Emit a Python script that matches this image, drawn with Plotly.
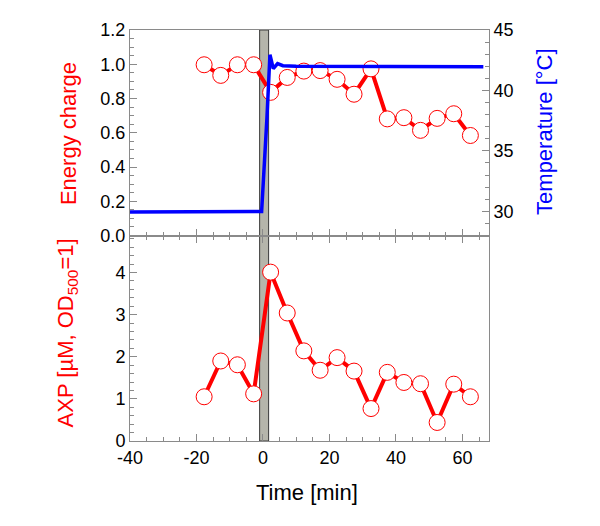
import plotly.graph_objects as go

# ---- data ----
sample_time = [-17.7, -12.7, -7.7, -2.8, 2.3, 7.3, 12.3, 17.2, 22.3, 27.4, 32.5, 37.4, 42.4, 47.4, 52.4, 57.4, 62.4]
energy_charge = [0.997, 0.935, 0.997, 0.997, 0.836, 0.923, 0.96, 0.963, 0.912, 0.825, 0.973, 0.681, 0.688, 0.614, 0.684, 0.711, 0.584]
axp = [1.05, 1.90, 1.81, 1.12, 4.01, 3.04, 2.14, 1.68, 1.98, 1.66, 0.77, 1.63, 1.39, 1.36, 0.44, 1.35, 1.05]

temp_time = [-40, -30, -20, -10, -0.4, 1.2, 1.7, 2.1, 2.5, 3.1, 4.4, 6, 10, 20, 30, 40, 50, 60, 66.3]
temp_vals = [29.95, 29.95, 29.96, 29.97, 29.98, 37.75, 40.97, 42.95, 42.5, 41.8, 42.22, 42.05, 42.0, 42.0, 42.0, 41.99, 41.99, 41.98, 41.97]

x_tickvals = [-40, -20, 0, 20, 40, 60]
x_ticktext = ["-40", "-20", "0", "20", "40", "60"]

shift_start, shift_end = -1.0, 1.7

RED = "#ff0000"
BLUE = "#0000ff"
AXC = "#8a8a8a"
FONT = "Arial, Liberation Sans, sans-serif"

fig = go.Figure()

fig.add_trace(go.Scatter(x=temp_time, y=temp_vals, xaxis="x2", yaxis="y3",
                         mode="lines", line=dict(color=BLUE, width=3.5),
                         showlegend=False, hoverinfo="skip"))

marker = dict(symbol="circle", size=16, color="white", line=dict(color=RED, width=1))
fig.add_trace(go.Scatter(x=sample_time, y=energy_charge, xaxis="x2", yaxis="y",
                         mode="lines+markers", line=dict(color=RED, width=4),
                         marker=marker, showlegend=False))
fig.add_trace(go.Scatter(x=sample_time, y=axp, xaxis="x", yaxis="y2",
                         mode="lines+markers", line=dict(color=RED, width=4),
                         marker=marker, showlegend=False))

fig.add_shape(type="rect", xref="x", yref="paper", x0=shift_start, x1=shift_end, y0=0, y1=1,
              fillcolor="#b5b5ab", line=dict(color="#3a3a3a", width=1), layer="below")

tickfont = dict(family=FONT, size=18, color="black")
xcommon = dict(range=[-40, 68], tickmode="array", tickvals=x_tickvals, ticktext=x_ticktext,
               ticks="inside", ticklen=7, tickcolor=AXC,
               showline=True, linecolor=AXC, linewidth=1, showgrid=False, zeroline=False,
               minor=dict(dtick=5, tick0=0, ticks="inside", ticklen=4, tickcolor=AXC))

fig.update_layout(
    width=592, height=518,
    margin=dict(l=122, r=111, t=12, b=85),
    plot_bgcolor="white", paper_bgcolor="white",
    font=dict(family=FONT, size=18, color="black"),
    xaxis=dict(**xcommon, anchor="y2", mirror="ticks", tickfont=tickfont),
    xaxis2=dict(**xcommon, anchor="y", matches="x", mirror=True, showticklabels=False),
    yaxis=dict(domain=[0.5, 1], anchor="x2", range=[0, 1.2], dtick=0.2, tickformat=".1f",
               ticks="inside", ticklen=7, tickcolor=AXC, showline=True, linecolor=AXC,
               showgrid=False, zeroline=False, tickfont=tickfont,
               minor=dict(dtick=0.05, ticks="inside", ticklen=4, tickcolor=AXC)),
    yaxis3=dict(overlaying="y", side="right", anchor="x2", range=[28, 45], dtick=5, tick0=30,
                ticks="inside", ticklen=7, tickcolor=AXC, showline=True, linecolor=AXC,
                showgrid=False, zeroline=False, tickfont=tickfont,
                minor=dict(dtick=1, ticks="inside", ticklen=4, tickcolor=AXC)),
    yaxis2=dict(domain=[0, 0.5], anchor="x", range=[0, 4.88], dtick=1,
                ticks="inside", ticklen=7, tickcolor=AXC, showline=True, linecolor=AXC,
                mirror=True, showgrid=False, zeroline=False, tickfont=tickfont,
                minor=dict(dtick=0.2, ticks="inside", ticklen=4, tickcolor=AXC)),
    annotations=[
        dict(text="Energy charge", xref="paper", yref="paper", x=-0.173, y=0.749,
             textangle=-90, showarrow=False, font=dict(family=FONT, size=22, color=RED),
             xanchor="center", yanchor="middle"),
        dict(text="AXP [µM, OD<sub>500</sub>=1]", xref="paper", yref="paper", x=-0.173, y=0.264,
             textangle=-90, showarrow=False, font=dict(family=FONT, size=22, color=RED),
             xanchor="center", yanchor="middle"),
        dict(text="Temperature [°C]", xref="paper", yref="paper", x=1.156, y=0.752,
             textangle=-90, showarrow=False, font=dict(family=FONT, size=22, color=BLUE),
             xanchor="center", yanchor="middle"),
        dict(text="Time [min]", xref="paper", yref="paper", x=0.493, y=-0.126,
             showarrow=False, font=dict(family=FONT, size=22, color="black"),
             xanchor="center", yanchor="middle"),
    ],
)

fig.write_html("out.html")
